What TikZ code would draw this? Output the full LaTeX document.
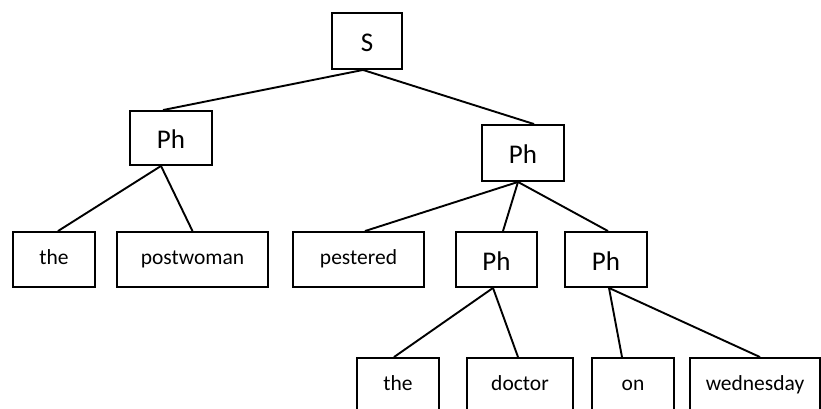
\documentclass[tikz,border=0pt]{standalone}
\usepackage{fontspec}
\setmainfont{Carlito}
\begin{document}
\begin{tikzpicture}[x=1pt,y=1pt,
  box/.style={draw, line width=1.9pt, inner sep=0pt, minimum height=55pt, anchor=center},
  word/.style={box, font=\fontsize{21.5}{24}\selectfont, text height=10pt, text depth=0pt},
  phrase/.style={box, font=\fontsize{27}{30}\selectfont, text height=21pt, text depth=0pt},
  link/.style={line width=1.9pt}]
\clip (0,0) rectangle (821,408);

% upper levels
\node[phrase, minimum width=70pt, minimum height=56pt] (s) at (367,367) {S};
\node[phrase, minimum width=82pt, minimum height=54pt] (lph) at (171,270) {Ph};
\node[phrase, minimum width=82pt, minimum height=56pt] (rph) at (523,255) {Ph};

% middle row
\node[word, minimum width=82pt]  (the1) at (54,148.5) {the};
\node[word, minimum width=151pt] (postwoman) at (192.5,148.5) {postwoman};
\node[word, minimum width=131pt] (pestered) at (358.5,148.5) {pestered};
\node[phrase, minimum width=81pt] (mph) at (496.5,148.5) {Ph};
\node[phrase, minimum width=82pt] (rph2) at (606,148.5) {Ph};

% bottom row
\node[word, minimum width=82pt]  (the2) at (398,22.5) {the};
\node[word, minimum width=106pt] (doctor) at (520,22.5) {doctor};
\node[word, minimum width=82pt]  (on) at (633,22.5) {on};
\node[word, minimum width=130pt] (wednesday) at (755,22.5) {wednesday};

% branches
\draw[link] ([xshift=-4pt]s.south) -- ([xshift=-8pt]lph.north);
\draw[link] ([xshift=-4pt]s.south) -- ([xshift=11pt]rph.north);
\draw[link] ([xshift=-10pt]lph.south) -- ([xshift=4pt]the1.north);
\draw[link] ([xshift=-10pt]lph.south) -- ([xshift=0pt]postwoman.north);
\draw[link] ([xshift=-5pt]rph.south) -- ([xshift=6.5pt]pestered.north);
\draw[link] ([xshift=-5pt]rph.south) -- ([xshift=6.5pt]mph.north);
\draw[link] ([xshift=-5pt]rph.south) -- ([xshift=2pt]rph2.north);
\draw[link] ([xshift=-3.5pt]mph.south) -- ([xshift=-4pt]the2.north);
\draw[link] ([xshift=-3.5pt]mph.south) -- ([xshift=-2pt]doctor.north);
\draw[link] ([xshift=3pt]rph2.south) -- ([xshift=-11pt]on.north);
\draw[link] ([xshift=3pt]rph2.south) -- ([xshift=5pt]wednesday.north);
\end{tikzpicture}
\end{document}
